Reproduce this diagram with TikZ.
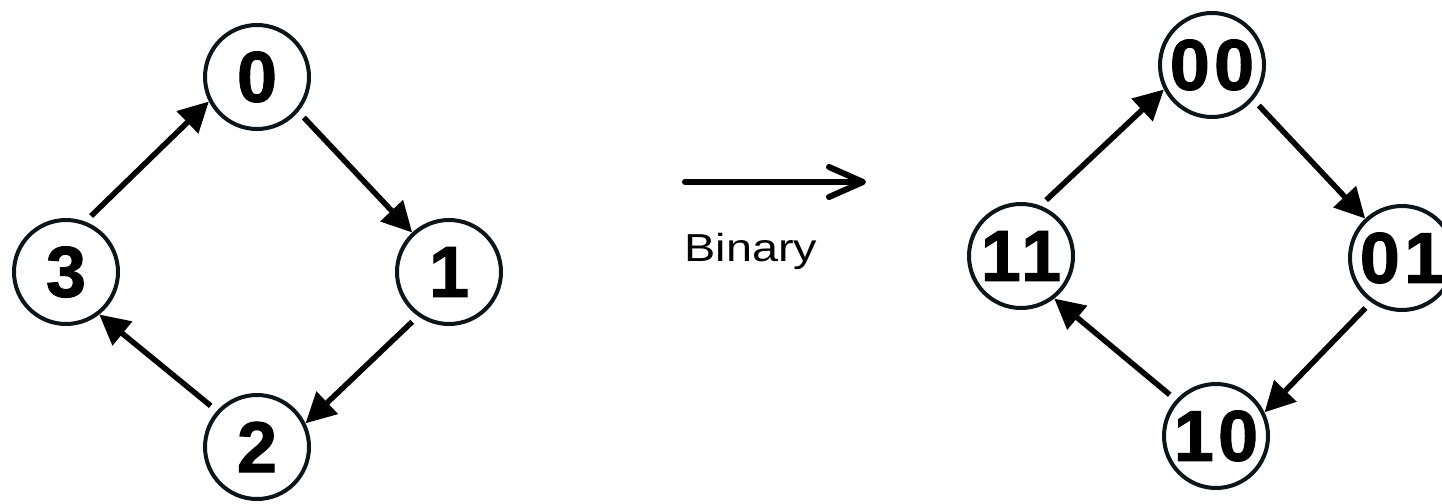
\documentclass[tikz,border=0pt]{standalone}
\usepackage{fontspec}
\usepackage{graphicx}
\setmainfont{Liberation Sans}
\newfontfamily\digitfont[FakeBold=1.4,LetterSpace=6]{Liberation Sans Bold}
\usetikzlibrary{arrows.meta}
\definecolor{ringcol}{RGB}{12,22,26}
\tikzset{
  state/.style={circle, draw=ringcol, line width=4pt, minimum size=104pt,
    inner sep=0pt, font=\fontsize{72pt}{72pt}\digitfont},
  edge/.style={line width=5.5pt, shorten <=8pt,
    -{Triangle[length=30pt,width=30pt]}},
  maparrow/.style={line width=6pt, line cap=round,
    -{Straight Barb[length=34pt,width=30pt,line width=6pt,round]}}
}
\begin{document}
\begin{tikzpicture}[x=1pt,y=-1pt]
\useasboundingbox[fill=white] (0,0) rectangle (1442,503);

% decimal ring
\node[state] (n0) at (257,77)  {0};
\node[state] (n1) at (449,272) {1};
\node[state] (n2) at (257,447) {2};
\node[state] (n3) at (66,272)  {3};

\draw[edge] (n3.69)  -- (n0.207);
\draw[edge] (n0.-40) -- (n1.133);
\draw[edge] (n1.235) -- (n2.26);
\draw[edge] (n2.138) -- (n3.-52);

% conversion arrow
\coordinate (a1) at (685,182);
\coordinate (a2) at (866,182);
\draw[maparrow] (a1) -- (a2);
\node[anchor=base, font=\fontsize{39pt}{39pt}\selectfont] (lbl) at (751,261)
  {\scalebox{1.2}[1]{Binary}};

% binary ring
\node[state] (b00) at (1212,65)  {00};
\node[state] (b01) at (1402,258) {01};
\node[state] (b10) at (1216,436) {10};
\node[state] (b11) at (1021,256) {11};

\draw[edge] (b11.69)  -- (b00.207);
\draw[edge] (b00.-40) -- (b01.133);
\draw[edge] (b01.235) -- (b10.26);
\draw[edge] (b10.138) -- (b11.-52);
\end{tikzpicture}
\end{document}
